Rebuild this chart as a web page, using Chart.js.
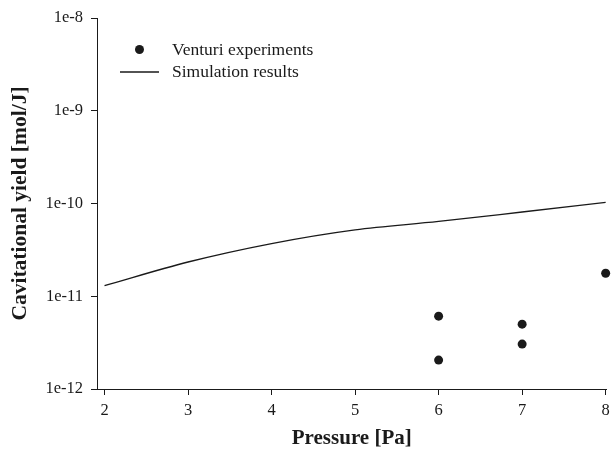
<!DOCTYPE html>
<html>
<head>
<meta charset="utf-8">
<script src="https://cdn.jsdelivr.net/npm/chart.js@4/dist/chart.umd.min.js"></script>
<style>
  html, body { margin: 0; padding: 0; background: #fff; }
  #wrap { width: 611px; height: 450px; position: relative; }
</style>
</head>
<body>
<div id="wrap"><canvas id="c"></canvas></div>
<script>
// Datos
const simPressure = [2, 3, 4, 5, 6, 7, 8];
const simYield = [1.30e-11, 2.34e-11, 3.7e-11, 5.2e-11, 6.4e-11, 8.1e-11, 1.03e-10];

const expPressure = [6, 6, 7, 7, 8];
const expYield = [6.1e-12, 2.05e-12, 5.0e-12, 3.05e-12, 1.77e-11];

const xTicks = [2, 3, 4, 5, 6, 7, 8];
const yTicks = [1e-12, 1e-11, 1e-10, 1e-9, 1e-8];
const yTickLabels = ['1e-12', '1e-11', '1e-10', '1e-9', '1e-8'];

const SERIF = '"Liberation Serif", "DejaVu Serif", serif';
const INK = '#1a1a1a';

/* Leyenda dentro del área del gráfico (como en el original) */
const legendInside = {
  id: 'legendInside',
  afterDraw(chart) {
    const { ctx } = chart;
    ctx.save();
    ctx.fillStyle = INK;
    ctx.strokeStyle = INK;
    ctx.beginPath();
    ctx.arc(139.5, 49.5, 4.5, 0, Math.PI * 2);
    ctx.fill();
    ctx.lineWidth = 1.3;
    ctx.beginPath();
    ctx.moveTo(120, 72);
    ctx.lineTo(159, 72);
    ctx.stroke();
    ctx.font = '17.5px ' + SERIF;
    ctx.textBaseline = 'middle';
    ctx.textAlign = 'left';
    ctx.fillText('Venturi experiments', 172, 50);
    ctx.fillText('Simulation results', 172, 72);
    ctx.restore();
  },
};

new Chart(document.getElementById('c'), {
  type: 'scatter',
  data: {
    datasets: [
      {
        label: 'Simulation results',
        data: simPressure.map((p, i) => ({ x: p, y: simYield[i] })),
        showLine: true,
        borderColor: INK,
        borderWidth: 1.3,
        pointRadius: 0,
        cubicInterpolationMode: 'monotone',
      },
      {
        label: 'Venturi experiments',
        data: expPressure.map((p, i) => ({ x: p, y: expYield[i] })),
        showLine: false,
        backgroundColor: INK,
        borderColor: INK,
        pointRadius: 4.5,
        borderWidth: 0,
        clip: false,
      },
    ],
  },
  options: {
    responsive: true,
    maintainAspectRatio: false,
    animation: false,
    layout: { padding: { top: 18, right: 2, left: 0, bottom: 0 } },
    plugins: { legend: { display: false }, tooltip: { enabled: false } },
    scales: {
      x: {
        type: 'linear',
        min: 1.91,
        max: 8.01,
        afterFit: (s) => { s.height = 61; s.paddingRight = 0; },
        afterBuildTicks: (s) => { s.ticks = xTicks.map((v) => ({ value: v })); },
        grid: { drawOnChartArea: false, tickLength: 6, color: INK },
        border: { color: INK, width: 1 },
        ticks: { color: INK, padding: 6, font: { family: SERIF, size: 16.5 } },
        title: {
          display: true,
          text: 'Pressure [Pa]',
          color: INK,
          padding: { top: 0, bottom: 0 },
          font: { family: SERIF, size: 21, weight: 'bold', lineHeight: 1.1 },
        },
      },
      y: {
        type: 'logarithmic',
        min: 1e-12,
        max: 1e-8,
        afterFit: (s) => { s.width = 97; },
        afterBuildTicks: (s) => { s.ticks = yTicks.map((v) => ({ value: v })); },
        grid: { drawOnChartArea: false, tickLength: 6, color: INK },
        border: { color: INK, width: 1 },
        ticks: {
          color: INK,
          padding: 8,
          font: { family: SERIF, size: 16.5 },
          callback: (v) => {
            const i = yTicks.findIndex((t) => Math.abs(Math.log10(t) - Math.log10(v)) < 1e-6);
            return i >= 0 ? yTickLabels[i] : '';
          },
        },
        title: {
          display: true,
          text: 'Cavitational yield [mol/J]',
          color: INK,
          padding: { top: 8, bottom: 0 },
          font: { family: SERIF, size: 21.5, weight: 'bold' },
        },
      },
    },
  },
  plugins: [legendInside],
});
</script>
</body>
</html>
